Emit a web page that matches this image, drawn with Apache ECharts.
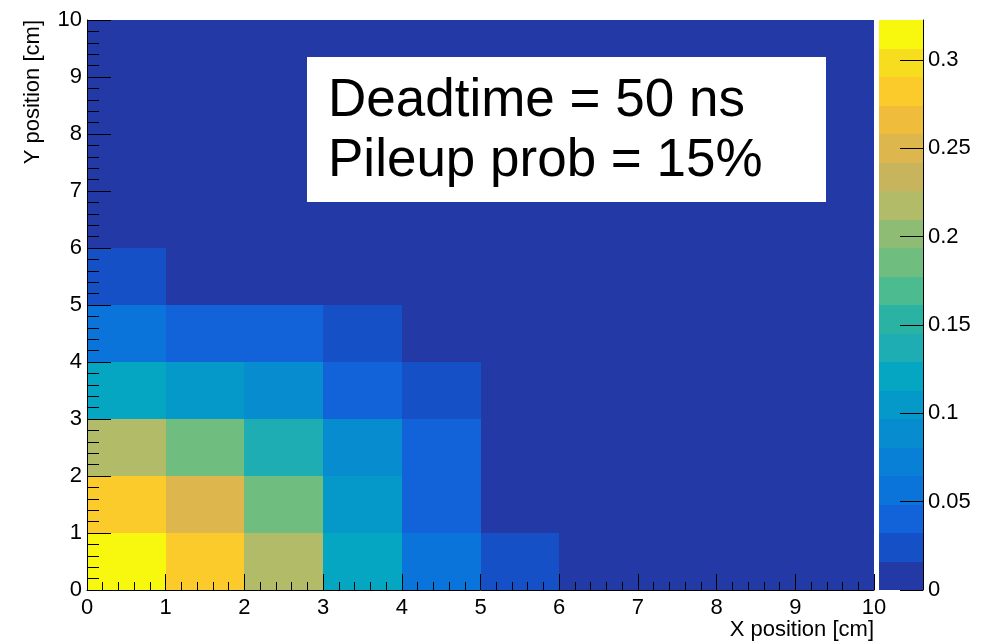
<!DOCTYPE html>
<html>
<head>
<meta charset="utf-8">
<title>Pileup hit map</title>
<script src="https://cdn.jsdelivr.net/npm/echarts@6/dist/echarts.min.js"></script>
<style>
  html, body { margin: 0; padding: 0; background: #ffffff; }
  #chart { width: 992px; height: 644px; }
</style>
</head>
<body>
<div id="chart"></div>
<script>
// Bin lower edges (cm) along each axis; every bin is 1 cm wide.
const xBinEdges = [0, 1, 2, 3, 4, 5, 6, 7, 8, 9];
const yBinEdges = [0, 1, 2, 3, 4, 5, 6, 7, 8, 9];
const binWidth = 1;

// Bin contents, one row per Y bin (row 0 is Y = 0..1 cm), columns follow X.
const row0 = [0.3226, 0.282, 0.218, 0.121, 0.056, 0.024, 0.004, 0.004, 0.004, 0.004];
const row1 = [0.282, 0.250, 0.185, 0.105, 0.040, 0.006, 0.004, 0.004, 0.004, 0.004];
const row2 = [0.218, 0.185, 0.137, 0.089, 0.040, 0.005, 0.004, 0.004, 0.004, 0.004];
const row3 = [0.121, 0.105, 0.089, 0.040, 0.024, 0.004, 0.004, 0.004, 0.004, 0.004];
const row4 = [0.056, 0.040, 0.040, 0.024, 0.006, 0.004, 0.004, 0.004, 0.004, 0.004];
const row5 = [0.024, 0.008, 0.005, 0.004, 0.004, 0.004, 0.004, 0.004, 0.004, 0.004];
const row6 = [0.006, 0.004, 0.004, 0.004, 0.004, 0.004, 0.004, 0.004, 0.004, 0.004];
const row7 = [0.004, 0.004, 0.004, 0.004, 0.004, 0.004, 0.004, 0.004, 0.004, 0.004];
const row8 = [0.004, 0.004, 0.004, 0.004, 0.004, 0.004, 0.004, 0.004, 0.004, 0.004];
const row9 = [0.004, 0.004, 0.004, 0.004, 0.004, 0.004, 0.004, 0.004, 0.004, 0.004];
const binRows = [row0, row1, row2, row3, row4, row5, row6, row7, row8, row9];

// Axis tick labels.
const xTicks = [0, 1, 2, 3, 4, 5, 6, 7, 8, 9, 10];
const yTicks = [0, 1, 2, 3, 4, 5, 6, 7, 8, 9, 10];
const zTicks = [0, 0.05, 0.1, 0.15, 0.2, 0.25, 0.3];

// 20-level bird palette, lowest level first.
const paletteColors = [
  '#2339A5', '#1650C6', '#1262DA', '#0A74DA', '#0880D6',
  '#088CD0', '#0599CA', '#04A6C2', '#1DADB2', '#2AB3A3',
  '#4CBB90', '#6FBE80', '#8FBC74', '#B2BB68', '#C8B45C',
  '#DDB74E', '#F0BC3C', '#FBCB2C', '#F6DE1E', '#F8F80E'
];

const fontFamily = '"Liberation Sans", Arial, Helvetica, sans-serif';

// Flatten the bins into [x, y, content] triples.
const cells = [];
binRows.forEach((row, iy) => {
  row.forEach((v, ix) => cells.push([xBinEdges[ix], yBinEdges[iy], v]));
});

// Colour scale runs from 0 to the largest bin content, split in equal contours.
const zMax = Math.max(...cells.map(c => c[2]));
const nLevels = paletteColors.length;
const levelStep = zMax / nLevels;
const levels = paletteColors.map((c, i) => [i * levelStep, (i + 1) * levelStep, (i + 0.5) * levelStep]);
const pieces = paletteColors.map((color, i) => {
  const p = { gte: i * levelStep, color: color };
  if (i === nLevels - 1) p.lte = zMax * 1.0001; else p.lt = (i + 1) * levelStep;
  return p;
});

const chart = echarts.init(document.getElementById('chart'), null, { renderer: 'canvas' });

const black = '#000000';
const labelStyle = { color: black, fontSize: 22, fontFamily: fontFamily };

chart.setOption({
  animation: false,
  backgroundColor: '#ffffff',
  grid: [
    { left: 87, top: 20, width: 787, height: 570, containLabel: false },
    { left: 879, top: 20, width: 44, height: 570, containLabel: false }
  ],
  xAxis: [
    {
      gridIndex: 0, type: 'value', min: 0, max: 10, interval: 1, z: 10,
      axisLine: { show: true, onZero: false, lineStyle: { color: black, width: 1 } },
      axisTick: { show: true, inside: true, length: 16, lineStyle: { color: black, width: 1 } },
      minorTick: { show: true, splitNumber: 5, length: 8, lineStyle: { color: black, width: 1 } },
      axisLabel: Object.assign({ margin: 7, customValues: xTicks }, labelStyle),
      splitLine: { show: false }
    },
    {
      gridIndex: 1, type: 'value', min: 0, max: 1, show: false
    }
  ],
  yAxis: [
    {
      gridIndex: 0, type: 'value', min: 0, max: 10, interval: 1, z: 10,
      axisLine: { show: true, onZero: false, lineStyle: { color: black, width: 1 } },
      axisTick: { show: true, inside: true, length: 24, lineStyle: { color: black, width: 1 } },
      minorTick: { show: true, splitNumber: 5, length: 12, lineStyle: { color: black, width: 1 } },
      axisLabel: Object.assign({ margin: 5, customValues: yTicks }, labelStyle),
      splitLine: { show: false }
    },
    {
      gridIndex: 1, type: 'value', min: 0, max: zMax, position: 'right', z: 10,
      axisLine: { show: true, onZero: false, lineStyle: { color: black, width: 1 } },
      axisTick: { show: true, inside: true, length: 23, customValues: zTicks, lineStyle: { color: black, width: 1 } },
      axisLabel: Object.assign({
        margin: 5, customValues: zTicks,
        formatter: v => String(parseFloat(Number(v).toFixed(2)))
      }, labelStyle),
      splitLine: { show: false }
    }
  ],
  visualMap: {
    type: 'piecewise', show: false, dimension: 2, seriesIndex: [0, 1], pieces: pieces
  },
  series: [
    {
      name: 'hits', type: 'custom', xAxisIndex: 0, yAxisIndex: 0,
      data: cells, encode: { x: 0, y: 1 }, clip: true,
      renderItem: (params, api) => {
        const x = api.value(0), y = api.value(1);
        const a = api.coord([x, y]);
        const b = api.coord([x + binWidth, y + binWidth]);
        const x0 = Math.round(a[0]), x1 = Math.round(b[0]);
        const y0 = Math.round(b[1]), y1 = Math.round(a[1]);
        return {
          type: 'rect',
          shape: { x: x0, y: y0, width: x1 - x0, height: y1 - y0 },
          style: { fill: api.visual('color') }
        };
      }
    },
    {
      name: 'palette', type: 'custom', xAxisIndex: 1, yAxisIndex: 1,
      data: levels, encode: { y: 0 },
      renderItem: (params, api) => {
        const a = api.coord([0, api.value(0)]);
        const b = api.coord([1, api.value(1)]);
        const y0 = Math.round(b[1]), y1 = Math.round(a[1]);
        return {
          type: 'rect',
          shape: { x: a[0], y: y0, width: b[0] - a[0], height: y1 - y0 },
          style: { fill: api.visual('color') }
        };
      }
    }
  ],
  graphic: [
    {
      type: 'text', x: 874, y: 630, z: 100,
      style: { text: 'X position [cm]', fill: black, fontSize: 22, fontFamily: fontFamily,
               align: 'right', verticalAlign: 'middle' }
    },
    {
      type: 'text', x: 33, y: 20, rotation: Math.PI / 2, z: 100,
      style: { text: 'Y position [cm]', fill: black, fontSize: 22, fontFamily: fontFamily,
               align: 'right', verticalAlign: 'middle' }
    },
    {
      type: 'rect', z: 100,
      shape: { x: 307, y: 57, width: 519, height: 145 },
      style: { fill: '#ffffff' }
    },
    {
      type: 'text', x: 328, y: 101, z: 101,
      style: { text: 'Deadtime = 50 ns', fill: black, fontSize: 53, fontFamily: fontFamily,
               align: 'left', verticalAlign: 'middle' }
    },
    {
      type: 'text', x: 328, y: 161, z: 101,
      style: { text: 'Pileup prob = 15%', fill: black, fontSize: 53, fontFamily: fontFamily,
               align: 'left', verticalAlign: 'middle' }
    }
  ]
});
</script>
</body>
</html>
